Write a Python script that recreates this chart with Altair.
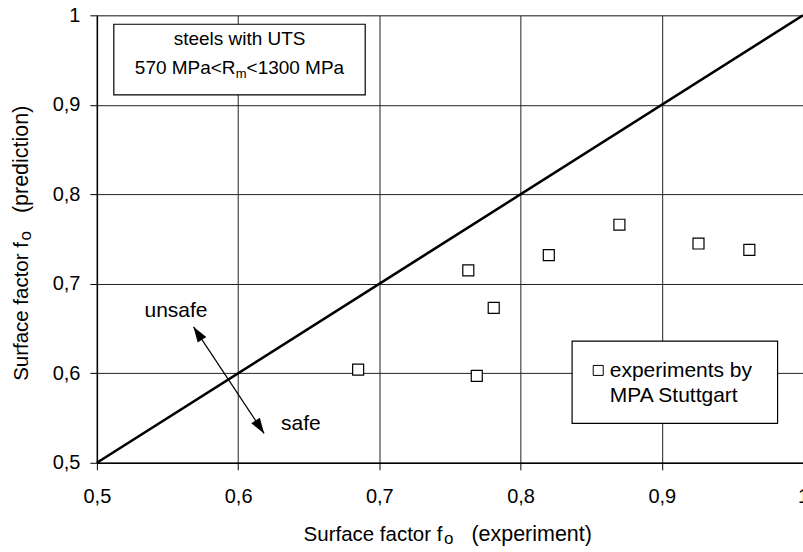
import altair as alt
import pandas as pd

FONT = "Liberation Sans"

# measured data (experiment vs. prediction)
exp_x = [0.685, 0.763, 0.769, 0.781, 0.820, 0.870, 0.926, 0.962]
pred_y = [0.604, 0.715, 0.597, 0.673, 0.732, 0.766, 0.745, 0.738]

diag_x = [0.5, 1.0]
diag_y = [0.5, 1.0]
ticks = [0.5, 0.6, 0.7, 0.8, 0.9, 1.0]

# annotation geometry in data units
box1_x = [0.512, 0.690]
box1_y = [0.911, 0.990]
box2_x = [0.8365, 0.982]
box2_y = [0.544, 0.636]
arrow_x = [0.5684, 0.6184]          # arrow tips (unsafe end, safe end)
arrow_y = [0.6519, 0.5328]
head_x = [0.5714, 0.6154]           # arrow-head centres
head_y = [0.6447, 0.5400]
arrow_angle = [326.5, 146.5]

xs = alt.Scale(domain=[0.5, 1.0], nice=False, zero=False)
ys = alt.Scale(domain=[0.5, 1.0], nice=False, zero=False)
label_expr = "datum.value == 1 ? '1' : replace(format(datum.value, '.1f'), '.', ',')"

common_axis = dict(values=ticks, title=None, labelExpr=label_expr, grid=True,
                   gridColor="#222", gridWidth=1, gridOpacity=1,
                   domainColor="black", domainWidth=1.5,
                   tickColor="black", tickWidth=1, tickSize=7,
                   labelFont=FONT, labelFontSize=20, labelColor="black")

pts_df = pd.DataFrame({"x": exp_x, "y": pred_y})
points = alt.Chart(pts_df).mark_point(
    shape="square", size=121, filled=True, fill="white", stroke="black",
    strokeWidth=1.2, opacity=1
).encode(
    x=alt.X("x:Q", scale=xs, axis=alt.Axis(labelPadding=17, labelFlush=False, **common_axis)),
    y=alt.Y("y:Q", scale=ys, axis=alt.Axis(labelPadding=10, labelFlush=False, **common_axis)),
)

diag = alt.Chart(pd.DataFrame({"x": diag_x, "y": diag_y})).mark_line(
    color="black", strokeWidth=2.6
).encode(x=alt.X("x:Q", scale=xs), y=alt.Y("y:Q", scale=ys))

rects = alt.Chart(pd.DataFrame({
    "x": [box1_x[0], box2_x[0]], "x2": [box1_x[1], box2_x[1]],
    "y": [box1_y[0], box2_y[0]], "y2": [box1_y[1], box2_y[1]],
})).mark_rect(fill="white", stroke="black", strokeWidth=1.2).encode(
    x=alt.X("x:Q", scale=xs), x2="x2:Q", y=alt.Y("y:Q", scale=ys), y2="y2:Q"
)

arrow_line = alt.Chart(pd.DataFrame({
    "x": [arrow_x[0]], "y": [arrow_y[0]], "x2": [arrow_x[1]], "y2": [arrow_y[1]]
})).mark_rule(color="black", strokeWidth=1.2).encode(
    x=alt.X("x:Q", scale=xs), y=alt.Y("y:Q", scale=ys), x2="x2:Q", y2="y2:Q"
)


def head(i):
    return alt.Chart(pd.DataFrame({"x": [head_x[i]], "y": [head_y[i]]})).mark_point(
        shape="M0,-1L0.66,1L-0.66,1Z", size=240, filled=True, angle=arrow_angle[i],
        color="black", opacity=1
    ).encode(x=alt.X("x:Q", scale=xs), y=alt.Y("y:Q", scale=ys))


legend_sym = alt.Chart(pd.DataFrame({"x": [0.855], "y": [0.6032]})).mark_point(
    shape="square", size=100, filled=True, fill="white", stroke="black",
    strokeWidth=1, opacity=1
).encode(x=alt.X("x:Q", scale=xs), y=alt.Y("y:Q", scale=ys))


def data_text(items, size, align="left"):
    df = pd.DataFrame(items, columns=["t", "x", "y"])
    return alt.Chart(df).mark_text(
        font=FONT, fontSize=size, align=align, baseline="alphabetic", color="black"
    ).encode(x=alt.X("x:Q", scale=xs), y=alt.Y("y:Q", scale=ys), text="t:N")


t_box1 = data_text([("steels with UTS", 0.601, 0.9673)], 19, "center")
t_box1b = data_text([("570 MPa<R", 0.5269, 0.9341), ("<1300 MPa", 0.6060, 0.9341)], 19)
t_box1m = data_text([("m", 0.5984, 0.9305)], 13)
t_safe = data_text([("unsafe", 0.556, 0.6631), ("safe", 0.6444, 0.5365)], 21, "center")
t_leg = data_text([("experiments by", 0.8632, 0.5960), ("MPA Stuttgart", 0.8632, 0.5675)], 21)


def px_text(text, x, y, size, angle=0):
    kw = dict(font=FONT, fontSize=size, align="left", baseline="alphabetic",
              color="black", text=text)
    if angle:
        kw["angle"] = angle
    return alt.Chart(pd.DataFrame({"k": [0]})).mark_text(**kw).encode(
        x=alt.value(x), y=alt.value(y)
    )


# axis titles with subscript (positions relative to plot origin)
xt1 = px_text("Surface factor f", 207, 526.7, 20.5)
xt2 = px_text("o", 347.5, 529.5, 17)
xt3 = px_text("(experiment)", 375, 526.7, 21.5)
yt1 = px_text("Surface factor f", -69, 366, 20.5, 270)
yt2 = px_text("o", -66.2, 225.5, 17, 270)
yt3 = px_text("(prediction)", -69, 198, 21.5, 270)

chart = alt.layer(
    points.mark_point(opacity=0), diag, arrow_line, head(0), head(1), rects, points,
    legend_sym, t_box1, t_box1b, t_box1m, t_safe, t_leg,
    xt1, xt2, xt3, yt1, yt2, yt3
).properties(
    width=707, height=448,
    autosize=alt.AutoSizeParams(type="none"),
    padding={"left": 97, "top": 15, "right": 0, "bottom": 90},
).configure_view(stroke=None).configure(background="white")

chart.save("out.html", embed_options={"renderer": "svg", "actions": False})
